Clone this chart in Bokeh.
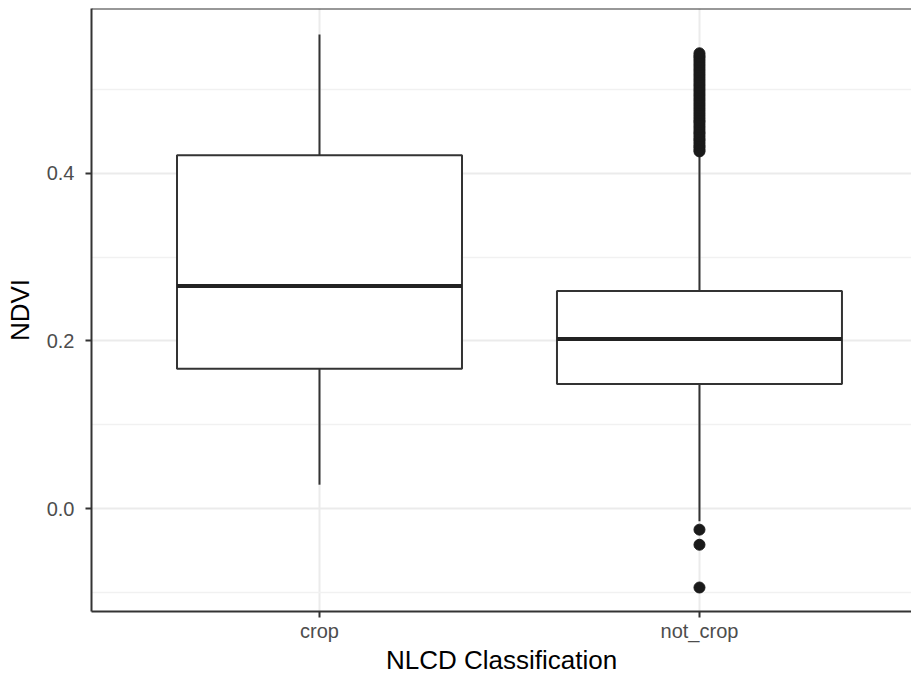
from bokeh.plotting import figure
from bokeh.models import Range1d, FixedTicker, Span
from bokeh.embed import file_html
from bokeh.resources import INLINE

# ---- data ----
categories = ["crop", "not_crop"]
q1 = [0.1667, 0.1488]
median = [0.2655, 0.2024]
q3 = [0.4214, 0.2595]
whisker_low = [0.0286, -0.0150]
whisker_high = [0.5655, 0.4245]

outlier_cat = "not_crop"
outliers = [-0.094, -0.043, -0.025,
            0.426, 0.428, 0.431, 0.433, 0.436, 0.439, 0.441, 0.444, 0.447,
            0.449, 0.452, 0.455, 0.458, 0.461, 0.463, 0.466, 0.469, 0.472,
            0.475, 0.478, 0.481, 0.484, 0.487, 0.490, 0.493, 0.496, 0.499,
            0.502, 0.505, 0.508, 0.511, 0.514, 0.517, 0.520, 0.523, 0.526,
            0.529, 0.532, 0.535, 0.538, 0.540, 0.543]

y_ticks = [0.0, 0.2, 0.4]
y_tick_labels = ["0.0", "0.2", "0.4"]
y_minor = [-0.1, 0.1, 0.3, 0.5]

x_title = "NLCD Classification"
y_title = "NDVI"

# ---- positions ----
xpos = [i + 1 for i in range(len(categories))]
box_w = 0.75
Y0, Y1 = -0.1226, 0.5964

FONT = "Liberation Sans"
DARK = "#333333"

p = figure(width=911, height=677, output_backend="svg", toolbar_location=None,
           x_range=Range1d(0.4, 2.558), y_range=Range1d(Y0, Y1),
           min_border_left=91, min_border_top=8, min_border_right=0,
           min_border_bottom=60)
p.background_fill_color = "white"
p.border_fill_color = "white"
p.outline_line_color = None

# grids
p.ygrid.grid_line_color = "#EBEBEB"
p.ygrid.grid_line_width = 2
p.ygrid.minor_grid_line_color = "#F1F1F1"
p.ygrid.minor_grid_line_width = 1.5
p.xgrid.grid_line_color = "#EBEBEB"
p.xgrid.grid_line_width = 2

# axes
p.xaxis.ticker = FixedTicker(ticks=xpos)
p.xaxis.major_label_overrides = {x: c for x, c in zip(xpos, categories)}
p.yaxis.ticker = FixedTicker(ticks=y_ticks, minor_ticks=y_minor)
p.yaxis.major_label_overrides = {t: l for t, l in zip(y_ticks, y_tick_labels)}
for ax in (p.xaxis[0], p.yaxis[0]):
    ax.axis_line_color = DARK
    ax.axis_line_width = 2
    ax.minor_tick_line_color = None
    ax.major_tick_line_color = DARK
    ax.major_tick_line_width = 2
    ax.major_tick_out = 6
    ax.major_tick_in = 0
    ax.major_label_text_font = FONT
    ax.major_label_text_font_size = "20px"
    ax.major_label_text_color = "#4D4D4D"
    ax.axis_label_text_font = FONT
    ax.axis_label_text_font_size = "26px"
    ax.axis_label_text_font_style = "normal"
    ax.axis_label_text_color = "black"
p.xaxis.axis_label = x_title
p.yaxis.axis_label = y_title
p.xaxis.major_label_standoff = 2
p.xaxis.axis_label_standoff = 0
p.yaxis.major_label_standoff = 11
p.yaxis.axis_label_standoff = 9

# top border of the panel
p.add_layout(Span(location=Y1, dimension="width", line_color=DARK, line_width=2))

# whiskers
p.segment(x0=xpos, x1=xpos, y0=q3, y1=whisker_high, line_color=DARK, line_width=2)
p.segment(x0=xpos, x1=xpos, y0=q1, y1=whisker_low, line_color=DARK, line_width=2)

# boxes
p.vbar(x=xpos, width=box_w, bottom=q1, top=q3, fill_color="white",
       line_color=DARK, line_width=2)

# medians
p.segment(x0=[x - box_w / 2 for x in xpos], x1=[x + box_w / 2 for x in xpos],
          y0=median, y1=median, line_color="#222222", line_width=4)

# outliers
ox = [xpos[categories.index(outlier_cat)]] * len(outliers)
p.scatter(x=ox, y=outliers, size=11, fill_color="#1A1A1A", line_color="#1A1A1A")

open("out.html", "w").write(file_html(p, INLINE))
